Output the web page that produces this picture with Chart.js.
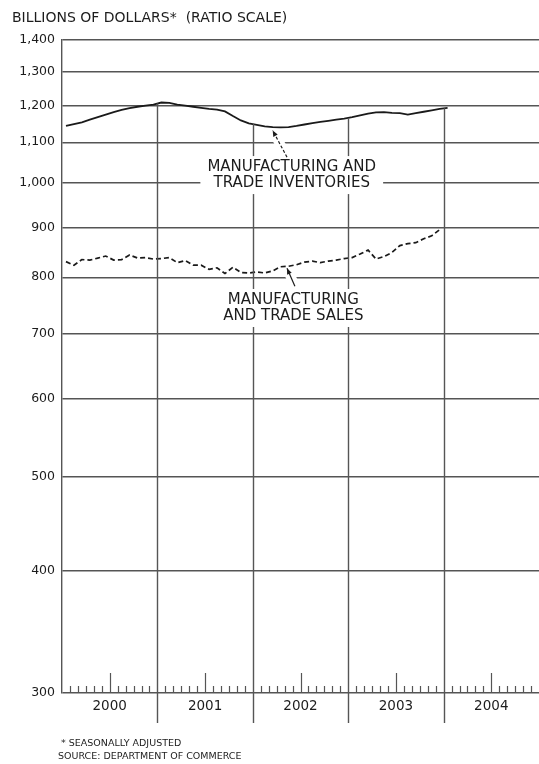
<!DOCTYPE html>
<html>
<head>
<meta charset="utf-8">
<script src="https://cdn.jsdelivr.net/npm/chart.js@4.4.1/dist/chart.umd.min.js"></script>
<style>
  html, body { margin: 0; padding: 0; background: #fff; }
  canvas { display: block; }
</style>
</head>
<body>
<canvas id="tradeChart" width="539" height="764"></canvas>
<script>
const years = ['2000', '2001', '2002', '2003', '2004'];
const yTicks = [300, 400, 500, 600, 700, 800, 900, 1000, 1100, 1200, 1300, 1400];

// billions of dollars, monthly, Jan 2000 - Jan 2004
const inventories = [
    1143, 1148, 1153, 1160, 1167, 1174, 1181, 1187, 1192, 1196, 1199, 1202,
    1208, 1207, 1202, 1199, 1196, 1193, 1190, 1188, 1183, 1170, 1158, 1150,
    1146, 1142, 1140, 1139, 1140, 1143, 1147, 1151, 1154, 1157, 1160, 1163,
    1167, 1172, 1177, 1180, 1181, 1179, 1178, 1174, 1178, 1182, 1186, 1190,
    1193
];
// billions of dollars, monthly, Jan 2000 - Dec 2003
const sales = [
    830, 823, 834, 833, 837, 841, 833, 834, 843, 837, 838, 835,
    836, 838, 828, 832, 823, 823, 815, 818, 807, 819, 809, 808,
    810, 808, 812, 820, 821, 824, 829, 831, 828, 831, 833, 836,
    838, 845, 853, 835, 840, 848, 862, 866, 868, 876, 882, 895
];

const monthsShown = 60;
const ink = '#1c1c1c';
const gridInk = '#555';
const family = "'DejaVu Sans', sans-serif";

// callouts, anchored in data units (month, value)
const notes = [
    { lines: ['MANUFACTURING AND', 'TRADE INVENTORIES'], at: [28.9, 1018], from: [28.3, 1062], to: [26.5, 1131], dash: [3, 2] },
    { lines: ['MANUFACTURING', 'AND TRADE SALES'], at: [29.1, 744], from: [29.3, 783], to: [28.3, 817], dash: [] }
];

const toPoints = arr => arr.map((v, i) => ({ x: i + 0.5, y: v }));

const decorations = {
    id: 'decorations',
    afterDraw(chart) {
        const { ctx, chartArea: area, scales: { x, y } } = chart;
        ctx.save();

        // monthly ticks on the time axis, taller at mid-year
        ctx.strokeStyle = gridInk;
        ctx.lineWidth = 1.2;
        for (let m = 1; m < monthsShown; m++) {
            if (m % 12 === 0) continue;
            const px = Math.round(x.getPixelForValue(m)) + 0.5;
            const len = m % 12 === 6 ? 20 : 7;
            ctx.beginPath();
            ctx.moveTo(px, area.bottom);
            ctx.lineTo(px, area.bottom - len);
            ctx.stroke();
        }

        // year separators hang from the inventories line down past the axis
        ctx.lineWidth = 1.4;
        for (let m = 12; m < monthsShown; m += 12) {
            const v = (inventories[m - 1] + inventories[m]) / 2;
            const px = Math.round(x.getPixelForValue(m)) + 0.5;
            ctx.beginPath();
            ctx.moveTo(px, y.getPixelForValue(v));
            ctx.lineTo(px, area.bottom + 30);
            ctx.stroke();
        }

        // callouts
        ctx.font = '15px ' + family;
        ctx.textAlign = 'center';
        ctx.textBaseline = 'middle';
        notes.forEach(n => {
            const cx = x.getPixelForValue(n.at[0]);
            const cy = y.getPixelForValue(n.at[1]);
            const w = Math.max(...n.lines.map(t => ctx.measureText(t).width));
            ctx.fillStyle = '#fff';
            ctx.fillRect(cx - w / 2 - 7, cy - 19, w + 14, 38);

            const x0 = x.getPixelForValue(n.from[0]), y0 = y.getPixelForValue(n.from[1]);
            const x1 = x.getPixelForValue(n.to[0]), y1 = y.getPixelForValue(n.to[1]);
            // knock the grid out around the leader
            ctx.strokeStyle = '#fff';
            ctx.lineWidth = 10;
            ctx.beginPath();
            ctx.moveTo(x0, y0);
            ctx.lineTo(x0 + (x1 - x0) * 0.7, y0 + (y1 - y0) * 0.7);
            ctx.stroke();

            ctx.strokeStyle = ink;
            ctx.lineWidth = 1.2;
            ctx.setLineDash(n.dash);
            ctx.beginPath();
            ctx.moveTo(x0, y0);
            ctx.lineTo(x1, y1);
            ctx.stroke();
            ctx.setLineDash([]);

            const a = Math.atan2(y1 - y0, x1 - x0);
            ctx.fillStyle = ink;
            ctx.beginPath();
            ctx.moveTo(x1, y1);
            ctx.lineTo(x1 - 6 * Math.cos(a) + 2.5 * Math.sin(a), y1 - 6 * Math.sin(a) - 2.5 * Math.cos(a));
            ctx.lineTo(x1 - 6 * Math.cos(a) - 2.5 * Math.sin(a), y1 - 6 * Math.sin(a) + 2.5 * Math.cos(a));
            ctx.closePath();
            ctx.fill();

            n.lines.forEach((t, k) => ctx.fillText(t, cx, cy - 8 + k * 16));
        });

        // heading and footnotes
        ctx.textAlign = 'left';
        ctx.fillStyle = ink;
        ctx.font = '14px ' + family;
        ctx.fillText('BILLIONS OF DOLLARS*  (RATIO SCALE)', 12, 18);
        ctx.font = '9.5px ' + family;
        ctx.fillText('* SEASONALLY ADJUSTED', 61, 744);
        ctx.fillText('SOURCE: DEPARTMENT OF COMMERCE', 58, 757);

        ctx.restore();
    }
};

new Chart(document.getElementById('tradeChart'), {
    type: 'line',
    data: {
        datasets: [
            {
                label: 'Manufacturing and trade inventories',
                data: toPoints(inventories),
                borderColor: '#1a1a1a',
                borderWidth: 1.8,
                pointRadius: 0,
                tension: 0
            },
            {
                label: 'Manufacturing and trade sales',
                data: toPoints(sales),
                borderColor: '#1a1a1a',
                borderWidth: 1.7,
                borderDash: [5, 3],
                pointRadius: 0,
                tension: 0
            }
        ]
    },
    options: {
        responsive: false,
        animation: false,
        layout: { padding: { top: 40, right: 0, bottom: 0, left: 0 } },
        plugins: {
            legend: { display: false },
            tooltip: { enabled: false }
        },
        scales: {
            x: {
                type: 'linear',
                min: 0,
                max: monthsShown,
                grid: { display: false, drawTicks: false },
                border: { display: false },
                afterBuildTicks: s => { s.ticks = years.map((_, k) => ({ value: 12 * k + 6 })); },
                afterFit: s => { s.height = 71; },
                ticks: {
                    autoSkip: false,
                    maxRotation: 0,
                    padding: 5,
                    color: ink,
                    font: { family: family, size: 13.5 },
                    callback: v => years[(v - 6) / 12]
                }
            },
            y: {
                type: 'logarithmic',
                min: 300,
                max: 1400,
                afterBuildTicks: s => { s.ticks = yTicks.map(v => ({ value: v })); },
                afterFit: s => { s.width = 62; },
                grid: { color: gridInk, lineWidth: 1.4, drawTicks: false },
                border: { display: true, color: gridInk, width: 1.4 },
                ticks: {
                    autoSkip: false,
                    padding: 7,
                    color: ink,
                    font: { family: family, size: 12.5 },
                    callback: v => v.toLocaleString('en-US')
                }
            }
        }
    },
    plugins: [decorations]
});
</script>
</body>
</html>
